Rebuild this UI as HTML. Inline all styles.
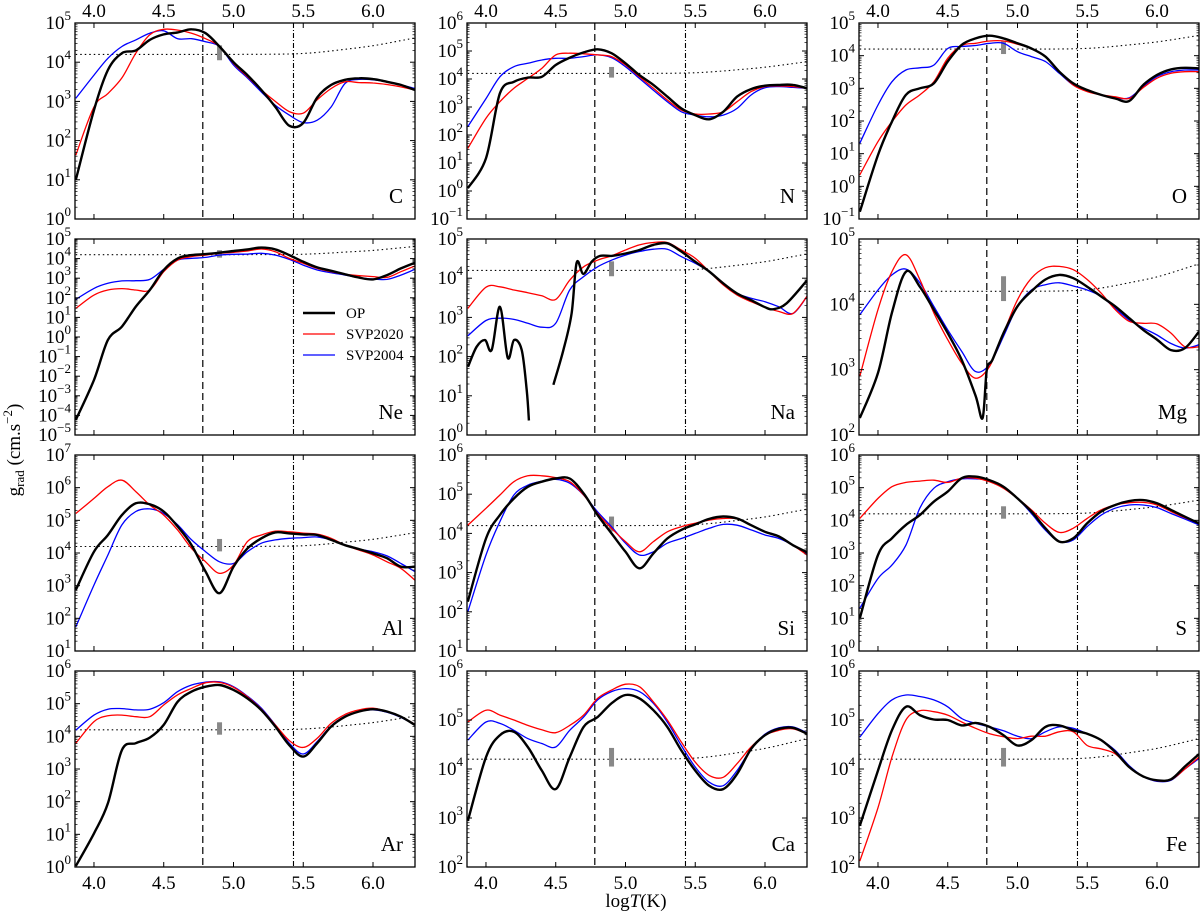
<!DOCTYPE html>
<html>
<head>
<meta charset="utf-8">
<style>
  html,body{margin:0;padding:0;background:#fff;}
  svg{display:block;font-family:"Liberation Serif",serif;}
</style>
</head>
<body>
<svg id="chart" width="1200" height="915" viewBox="0 0 1200 915" xmlns="http://www.w3.org/2000/svg">
  <text transform="translate(20,450) rotate(-90)" text-anchor="middle" font-size="19">g<tspan font-size="13" dy="4">rad</tspan><tspan dy="-4"> (cm.s</tspan><tspan font-size="13" dy="-8">−2</tspan><tspan dy="8">)</tspan></text>
  <text x="636" y="907" text-anchor="middle" font-size="19">log<tspan font-style="italic">T</tspan>(K)</text>
</svg>
<script>
// Shared temperature grid (log T)
const T = [3.87,4.0,4.1,4.2,4.3,4.4,4.5,4.6,4.7,4.8,4.9,5.0,5.1,5.2,5.3,5.4,5.5,5.6,5.7,5.8,5.9,6.0,6.1,6.2,6.3];
const elements = ["C","N","O","Ne","Na","Mg","Al","Si","S","Ar","Ca","Fe"];
const yMin = [0,-1,-1,-5,0,2,1,1,0,0,2,2];
const yMax = [5,6,5,5,5,5,7,6,6,6,6,6];
const xTicks = [4.0,4.5,5.0,5.5,6.0];
const xTickLabels = ["4.0","4.5","5.0","5.5","6.0"];
const dashedT = 4.78;
const dashDotT = 5.43;
const barT = 4.9;
const barLog = [4.05,4.43];
const dotT = [3.87,4.5,5.0,5.4,5.6,5.8,6.0,6.2,6.3];
const dotV = [4.2,4.2,4.2,4.21,4.25,4.33,4.42,4.55,4.62];

// log10 g_rad values
const C_OP   = [1.0,2.78,3.8,4.23,4.3,4.57,4.71,4.76,4.84,4.74,4.4,4.0,3.67,3.29,2.86,2.38,2.45,3.1,3.42,3.55,3.59,3.57,3.5,3.42,3.29];
const C_S20  = [1.63,2.86,3.2,3.6,4.23,4.7,4.84,4.82,4.74,4.6,4.4,3.97,3.63,3.29,3.0,2.74,2.7,3.04,3.33,3.5,3.48,3.47,3.43,3.37,3.29];
const C_S04  = [3.08,3.67,4.1,4.4,4.57,4.74,4.8,4.6,4.6,4.52,4.4,3.93,3.6,3.24,2.9,2.65,2.46,2.52,2.86,3.46,3.56,3.55,3.5,3.42,3.33];
const N_OP   = [0.1,1.17,3.49,3.9,4.05,4.08,4.5,4.76,4.95,5.06,4.92,4.56,4.14,3.79,3.37,2.95,2.71,2.56,2.83,3.37,3.64,3.76,3.79,3.79,3.67];
const N_S20  = [1.52,2.6,3.19,3.67,4.02,4.38,4.86,4.92,4.9,4.86,4.8,4.5,4.08,3.67,3.25,2.89,2.75,2.75,2.83,3.19,3.55,3.73,3.75,3.73,3.67];
const N_S04  = [2.3,3.3,4.08,4.44,4.56,4.68,4.74,4.74,4.8,4.86,4.76,4.44,4.02,3.6,3.19,2.83,2.71,2.65,2.71,2.95,3.43,3.69,3.73,3.7,3.67];
const O_OP   = [-0.78,0.96,1.98,2.8,3.0,3.15,3.82,4.33,4.53,4.61,4.53,4.38,4.22,3.97,3.51,3.15,2.95,2.8,2.69,2.61,3.1,3.41,3.58,3.63,3.61];
const O_S20  = [0.35,1.37,1.98,2.49,2.8,3.2,3.92,4.31,4.38,4.45,4.45,4.35,4.22,3.97,3.51,3.1,2.9,2.8,2.74,2.69,3.02,3.31,3.46,3.51,3.51];
const O_S04  = [1.32,2.49,3.2,3.56,3.63,3.71,4.22,4.28,4.31,4.38,4.38,4.12,3.97,3.82,3.46,3.1,2.92,2.8,2.71,2.71,3.05,3.36,3.51,3.56,3.56];
const Ne_OP  = [-4.23,-2.19,-0.15,0.53,1.55,2.4,3.42,4.01,4.18,4.23,4.3,4.39,4.47,4.56,4.47,4.18,3.84,3.55,3.38,3.2,3.03,2.94,3.16,3.5,3.79];
const Ne_S20 = [1.46,2.14,2.4,2.47,2.4,2.4,3.33,3.93,4.1,4.18,4.27,4.32,4.39,4.49,4.35,4.01,3.76,3.5,3.33,3.2,3.13,3.08,3.04,3.33,3.62];
const Ne_S04 = [1.92,2.48,2.74,2.86,2.87,2.94,3.45,3.93,4.01,4.06,4.18,4.22,4.23,4.27,4.18,3.96,3.67,3.42,3.28,3.16,3.03,2.96,2.94,3.16,3.45];
const Na_OP_T = [3.871,3.933,3.993,4.041,4.1,4.156,4.201,4.256,4.292,4.308,null,4.483,4.555,4.614,4.65,4.698,4.758,4.817,4.9,5.0,5.1,5.2,5.3,5.4,5.5,5.6,5.7,5.8,5.9,6.0,6.06,6.155,6.3];
const Na_OP  = [1.74,2.25,2.42,2.17,3.27,1.97,2.42,2.17,1.15,0.37,null,1.28,2.17,3.1,4.4,4.11,4.42,4.57,4.57,4.63,4.72,4.85,4.89,4.68,4.42,4.17,3.87,3.61,3.44,3.26,3.21,3.36,3.94];
const Na_S20 = [3.23,3.77,3.78,3.7,3.63,3.55,3.46,3.95,4.29,4.46,4.57,4.72,4.85,4.91,4.91,4.72,4.51,4.17,3.83,3.57,3.4,3.26,3.15,3.1,3.53];
const Na_S04 = [2.53,2.92,2.98,2.95,2.85,2.75,2.85,3.7,4.04,4.29,4.46,4.59,4.68,4.74,4.74,4.55,4.38,4.17,3.87,3.61,3.49,3.4,3.27,3.1,3.53];
const Mg_OP_T = [3.87,4.0,4.1,4.2,4.3,4.4,4.5,4.6,4.7,4.75,4.78,4.82,4.9,5.0,5.1,5.2,5.3,5.4,5.5,5.6,5.7,5.8,5.9,6.0,6.1,6.2,6.3];
const Mg_OP  = [2.26,2.95,3.87,4.5,4.27,3.92,3.56,3.15,2.6,2.26,3.0,3.15,3.56,3.97,4.2,4.38,4.45,4.4,4.27,4.12,3.97,3.79,3.61,3.46,3.3,3.33,3.58];
const Mg_S20 = [2.9,3.92,4.5,4.76,4.38,3.87,3.46,3.1,2.87,3.05,3.56,4.07,4.4,4.56,4.58,4.53,4.38,4.17,3.92,3.74,3.71,3.7,3.56,3.35,3.35];
const Mg_S04 = [3.84,4.22,4.45,4.54,4.33,3.97,3.61,3.28,2.97,3.08,3.51,3.97,4.22,4.3,4.33,4.28,4.22,4.12,3.94,3.76,3.64,3.53,3.4,3.33,3.38];
const Al_OP  = [2.87,4.04,4.55,5.16,5.52,5.49,5.27,4.81,4.24,3.43,2.77,3.58,4.14,4.45,4.63,4.6,4.57,4.55,4.4,4.24,4.12,3.99,3.84,3.58,3.58];
const Al_S20 = [5.21,5.67,6.03,6.23,5.88,5.47,5.16,4.7,4.14,3.73,3.38,3.63,4.35,4.55,4.67,4.65,4.61,4.58,4.45,4.24,4.09,3.94,3.73,3.53,3.17];
const Al_S04 = [1.74,3.02,3.94,4.86,5.27,5.35,5.21,4.86,4.4,4.04,3.73,3.68,4.04,4.3,4.4,4.45,4.47,4.49,4.4,4.24,4.12,4.04,3.91,3.68,3.43];
const Si_OP  = [2.26,3.87,4.47,4.89,5.19,5.32,5.4,5.4,5.02,4.47,4.0,3.53,3.11,3.49,3.87,4.09,4.23,4.37,4.43,4.38,4.21,4.04,3.92,3.7,3.52];
const Si_S20 = [4.21,4.64,4.98,5.32,5.47,5.47,5.42,5.32,4.98,4.51,4.13,3.79,3.53,3.79,4.04,4.17,4.26,4.34,4.38,4.37,4.21,4.04,3.92,3.7,3.45];
const Si_S04 = [2.0,3.45,4.3,4.98,5.23,5.33,5.38,5.28,4.98,4.55,4.17,3.75,3.45,3.53,3.75,3.87,4.0,4.13,4.23,4.21,4.09,3.96,3.87,3.7,3.47];
const S_OP   = [1.0,2.94,3.45,3.86,4.16,4.57,4.88,5.29,5.34,5.23,5.03,4.67,4.27,3.76,3.35,3.45,3.91,4.27,4.47,4.59,4.62,4.52,4.32,4.11,3.91];
const S_S20  = [4.06,4.67,5.03,5.16,5.2,5.23,5.16,5.29,5.29,5.18,4.98,4.67,4.32,3.91,3.63,3.76,4.06,4.32,4.47,4.54,4.55,4.47,4.27,4.08,3.91];
const S_S04  = [1.31,2.22,2.63,3.24,4.37,4.98,5.18,5.27,5.27,5.23,5.03,4.67,4.21,3.7,3.35,3.4,3.81,4.16,4.37,4.47,4.47,4.39,4.21,4.04,3.86];
const Ar_OP  = [0.03,1.03,1.95,3.58,3.79,3.96,4.35,5.06,5.37,5.52,5.57,5.42,5.16,4.8,4.3,3.73,3.38,3.79,4.3,4.6,4.76,4.83,4.76,4.6,4.35];
const Ar_S20 = [3.79,4.45,4.63,4.65,4.6,4.6,4.96,5.27,5.47,5.64,5.65,5.5,5.21,4.83,4.35,3.87,3.66,3.94,4.4,4.67,4.81,4.86,4.76,4.6,4.37];
const Ar_S04 = [4.19,4.65,4.83,4.85,4.81,4.83,5.03,5.37,5.57,5.66,5.67,5.52,5.23,4.86,4.35,3.79,3.46,3.84,4.32,4.62,4.76,4.81,4.74,4.58,4.35];
const Ca_OP  = [2.94,4.24,4.69,4.76,4.45,3.97,3.59,4.24,4.86,5.06,5.34,5.51,5.44,5.2,4.86,4.38,3.97,3.66,3.59,3.9,4.41,4.69,4.82,4.84,4.72];
const Ca_S20 = [4.96,5.2,5.1,5.0,4.89,4.8,4.74,4.89,5.1,5.44,5.61,5.73,5.68,5.37,5.0,4.55,4.14,3.87,3.83,4.11,4.45,4.69,4.79,4.82,4.72];
const Ca_S04 = [4.59,4.96,4.93,4.79,4.62,4.52,4.45,4.79,5.06,5.41,5.58,5.64,5.58,5.34,4.96,4.48,4.04,3.73,3.66,3.97,4.41,4.71,4.84,4.86,4.74];
const Fe_OP  = [2.84,3.97,4.79,5.27,5.1,5.01,5.0,4.89,4.94,4.86,4.69,4.48,4.59,4.86,4.89,4.79,4.72,4.59,4.35,4.04,3.85,3.77,3.79,4.05,4.3];
const Fe_S20 = [2.12,3.21,4.24,5.0,5.19,5.17,5.1,4.96,4.83,4.72,4.66,4.62,4.67,4.67,4.76,4.76,4.48,4.41,4.31,4.04,3.85,3.76,3.78,4.0,4.24];
const Fe_S04 = [4.65,5.13,5.41,5.51,5.48,5.41,5.27,5.03,4.93,4.86,4.78,4.67,4.62,4.76,4.86,4.83,4.72,4.59,4.38,4.07,3.85,3.75,3.77,4.0,4.21];

const seriesOP  = [C_OP,N_OP,O_OP,Ne_OP,Na_OP,Mg_OP,Al_OP,Si_OP,S_OP,Ar_OP,Ca_OP,Fe_OP];
const seriesS20 = [C_S20,N_S20,O_S20,Ne_S20,Na_S20,Mg_S20,Al_S20,Si_S20,S_S20,Ar_S20,Ca_S20,Fe_S20];
const seriesS04 = [C_S04,N_S04,O_S04,Ne_S04,Na_S04,Mg_S04,Al_S04,Si_S04,S_S04,Ar_S04,Ca_S04,Fe_S04];

const NS = "http://www.w3.org/2000/svg";
const svg = document.getElementById("chart");
const colLeft = [75,467,859], rowTop = [23,239,455,671], PW = 340, PH = 196;
const tMin = 3.864, tMax = 6.301;

function mk(tag, attrs, parent){
  const e = document.createElementNS(NS, tag);
  for (const k in attrs) e.setAttribute(k, attrs[k]);
  (parent||svg).appendChild(e);
  return e;
}
function smoothPath(pts){
  if (pts.length < 2) return "";
  let d = "M" + pts[0][0].toFixed(1) + "," + pts[0][1].toFixed(1);
  for (let i=0;i<pts.length-1;i++){
    const p0 = pts[Math.max(0,i-1)], p1 = pts[i], p2 = pts[i+1], p3 = pts[Math.min(pts.length-1,i+2)];
    const c1x = p1[0]+(p2[0]-p0[0])/6, c1y = p1[1]+(p2[1]-p0[1])/6;
    const c2x = p2[0]-(p3[0]-p1[0])/6, c2y = p2[1]-(p3[1]-p1[1])/6;
    d += " C"+c1x.toFixed(1)+","+c1y.toFixed(1)+" "+c2x.toFixed(1)+","+c2y.toFixed(1)+" "+p2[0].toFixed(1)+","+p2[1].toFixed(1);
  }
  return d;
}
function expText(n){ return n < 0 ? "\u2212" + (-n) : String(n); }

for (let p=0;p<12;p++){
  const col = p%3, row = Math.floor(p/3);
  const L = colLeft[col], Tp = rowTop[row];
  const lo = yMin[p], hi = yMax[p];
  const xS = t => L + (t - tMin)/(tMax - tMin)*PW;
  const yS = v => Tp + PH - (v - lo)/(hi - lo)*PH;
  const g = mk("g", {});
  
  
  const clipId = "clip"+p;
  const cp = mk("clipPath", {id:clipId}, g);
  mk("rect", {x:L, y:Tp, width:PW, height:PH}, cp);
  const plot = mk("g", {"clip-path":"url(#"+clipId+")"}, g);

  // reference lines
  const dl = mk("line", {x1:xS(dashedT), x2:xS(dashedT), y1:Tp, y2:Tp+PH, stroke:"#000", "stroke-width":1.2, "stroke-dasharray":"7,4"}, plot);
  
  
  const ddl = mk("line", {x1:xS(dashDotT), x2:xS(dashDotT), y1:Tp, y2:Tp+PH, stroke:"#000", "stroke-width":1.1, "stroke-dasharray":"5,2,1,2"}, plot);
  
  
  const dotPts = dotT.map((t,i)=>[xS(t), yS(dotV[i])]);
  const dot = mk("path", {d:smoothPath(dotPts), fill:"none", stroke:"#000", "stroke-width":1.1, "stroke-dasharray":"1.5,3"}, plot);
  
  
  const bar = mk("rect", {x:xS(barT)-2.5, y:yS(barLog[1]), width:5, height:yS(barLog[0])-yS(barLog[1]), fill:"#888"}, plot);
  
  

  // series
  const defs = [
    {vals:seriesS04[p], xs:T, color:"#0000ff", w:1.3, name:"svp2004"},
    {vals:seriesS20[p], xs:T, color:"#ff0000", w:1.3, name:"svp2020"},
    {vals:seriesOP[p], xs:(p===4?Na_OP_T:(p===5?Mg_OP_T:T)), color:"#000", w:2.4, name:"op"}
  ];
  defs.forEach(s=>{
    let segs = [[]];
    s.vals.forEach((v,i)=>{
      if (v===null || s.xs[i]===null){ segs.push([]); return; }
      segs[segs.length-1].push([xS(s.xs[i]), yS(v)]);
    });
    const d = segs.filter(a=>a.length>1).map(smoothPath).join(" ");
    const path = mk("path", {d:d, fill:"none", stroke:s.color, "stroke-width":s.w, "stroke-linejoin":"round"}, plot);
    
    
  });

  // frame
  const fr = mk("rect", {x:L, y:Tp, width:PW, height:PH, fill:"none", stroke:"#000", "stroke-width":1.3}, g);
  
  

  // x ticks
  xTicks.forEach((t,i)=>{
    const x = xS(t);
    mk("line", {x1:x, x2:x, y1:Tp, y2:Tp+5, stroke:"#000", "stroke-width":1}, g);
    mk("line", {x1:x, x2:x, y1:Tp+PH, y2:Tp+PH-5, stroke:"#000", "stroke-width":1}, g);
    if (row===0){
      const tl = mk("text", {x:x, y:Tp-6, "text-anchor":"middle", "font-size":19}, g);
      tl.textContent = xTickLabels[i];
      
      
    }
    if (row===3){
      const bl = mk("text", {x:x, y:Tp+PH+22, "text-anchor":"middle", "font-size":19}, g);
      bl.textContent = xTickLabels[i];
      
      
    }
  });

  // y ticks
  for (let n=lo;n<=hi;n++){
    const y = yS(n);
    mk("line", {x1:L, x2:L+5, y1:y, y2:y, stroke:"#000", "stroke-width":1}, g);
    mk("line", {x1:L+PW, x2:L+PW-5, y1:y, y2:y, stroke:"#000", "stroke-width":1}, g);
    if (n<hi){
      for (let m=2;m<10;m++){
        const ym = yS(n+Math.log10(m));
        mk("line", {x1:L, x2:L+2.5, y1:ym, y2:ym, stroke:"#000", "stroke-width":0.7}, g);
        mk("line", {x1:L+PW, x2:L+PW-2.5, y1:ym, y2:ym, stroke:"#000", "stroke-width":0.7}, g);
      }
    }
    const lbl = mk("text", {x:L-4, y:y+6, "text-anchor":"end", "font-size":19}, g);
    
    
    const base = document.createElementNS(NS,"tspan"); base.textContent = "10"; lbl.appendChild(base);
    const ex = document.createElementNS(NS,"tspan");
    ex.setAttribute("dy","-9"); ex.setAttribute("font-size","13");
    ex.textContent = expText(n); lbl.appendChild(ex);
  }

  // element label
  const el = mk("text", {x:L+PW-12, y:Tp+PH-16, "text-anchor":"end", "font-size":21}, g);
  el.textContent = elements[p];
  
  
}

// legend in Ne panel
const legendNames = ["OP","SVP2020","SVP2004"];
const legendColors = ["#000","#ff0000","#0000ff"];
const legendWidths = [2.4,1.3,1.3];
const lg = mk("g", {});


legendNames.forEach((nm,i)=>{
  const y = 313 + i*21;
  const e = mk("g", {}, lg);
  
  
  mk("line", {x1:303, x2:335, y1:y, y2:y, stroke:legendColors[i], "stroke-width":legendWidths[i]}, e);
  const t = mk("text", {x:346, y:y+5, "font-size":15}, e);
  t.textContent = nm;
});
</script>
</body>
</html>
